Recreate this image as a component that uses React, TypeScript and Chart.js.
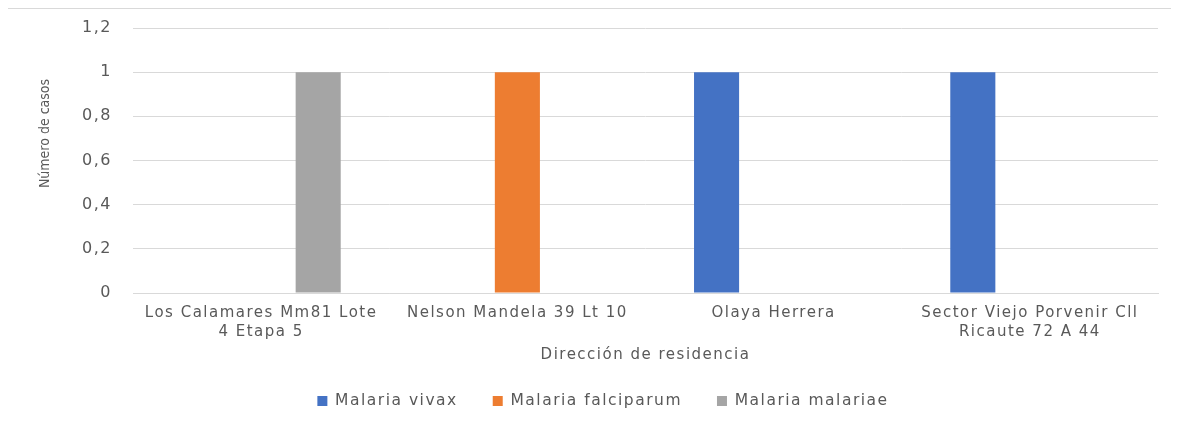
import React, { useEffect, useRef } from "react";
import { Chart, registerables } from "chart.js";

Chart.register(...registerables);

const categories: string[][] = [
  ["Los Calamares Mm81 Lote", "4 Etapa 5"],
  ["Nelson Mandela 39 Lt 10"],
  ["Olaya Herrera"],
  ["Sector Viejo Porvenir Cll", "Ricaute 72 A 44"],
];
const seriesNames = ["Malaria vivax", "Malaria falciparum", "Malaria malariae"];
const vivax = [0, 0, 1, 1];
const falciparum = [0, 1, 0, 0];
const malariae = [1, 0, 0, 0];
const seriesColors = ["#4472C4", "#ED7D31", "#A5A5A5"];
const yTicks = [0, 0.2, 0.4, 0.6, 0.8, 1, 1.2];
const yTitle = "Número de casos";
const xTitle = "Dirección de residencia";

const FONT = "'DejaVu Sans', sans-serif";
const Y_TITLE_FONT = "14px 'Liberation Sans Narrow', 'DejaVu Sans Condensed', sans-serif";
const GREY = "#595959";
const SPACING = "1.5px";

const spacingPlugin = {
  id: "spacing",
  beforeUpdate(chart: any) {
    chart.ctx.letterSpacing = SPACING;
  },
  beforeDraw(chart: any) {
    chart.ctx.letterSpacing = SPACING;
  },
  afterDraw(chart: any) {
    const ctx = chart.ctx;
    const area = chart.chartArea;
    ctx.save();
    ctx.letterSpacing = "0px";
    ctx.font = Y_TITLE_FONT;
    ctx.fillStyle = GREY;
    ctx.textAlign = "center";
    ctx.textBaseline = "middle";
    ctx.translate(45, (area.top + area.bottom) / 2 - 27);
    ctx.rotate(-Math.PI / 2);
    ctx.fillText(yTitle, 0, 0);
    ctx.restore();
  },
};

export default function App() {
  const ref = useRef<HTMLCanvasElement | null>(null);
  useEffect(() => {
    if (!ref.current) return;
    const chart = new Chart(ref.current, {
      type: "bar",
      plugins: [spacingPlugin],
      data: {
        labels: categories,
        datasets: [vivax, falciparum, malariae].map((d, i) => ({
          label: seriesNames[i],
          data: d,
          backgroundColor: seriesColors[i],
          borderWidth: 0,
          categoryPercentage: 0.668,
          barPercentage: 0.79,
        })),
      },
      options: {
        animation: false,
        responsive: false,
        maintainAspectRatio: false,
        layout: { padding: { left: 48, right: 21, top: 28, bottom: 4.25 } },
        plugins: {
          tooltip: { enabled: false },
          legend: {
            position: "bottom",
            labels: {
              boxWidth: 10,
              boxHeight: 10,
              padding: 35,
              color: GREY,
              font: { family: FONT, size: 15.5 },
            },
          },
        },
        scales: {
          x: {
            grid: { display: false, drawTicks: false },
            border: { display: true, color: "#d9d9d9" },
            ticks: {
              color: GREY,
              font: { family: FONT, size: 15, lineHeight: 1.27 },
              padding: 11,
              maxRotation: 0,
              autoSkip: false,
            },
            title: {
              display: true,
              text: xTitle,
              color: GREY,
              font: { family: FONT, size: 15 },
              padding: { top: -6.6, bottom: -6.25 },
            },
          },
          y: {
            min: 0,
            max: 1.2,
            afterFit: (s: any) => {
              s.width = 85;
              s.paddingTop = 0;
              s.paddingBottom = 0;
            },
            afterBuildTicks: (s: any) => {
              s.ticks = yTicks.map((v) => ({ value: v }));
            },
            ticks: {
              color: GREY,
              font: { family: FONT, size: 16 },
              padding: 21,
              callback: (v: any) => String(Math.round(Number(v) * 10) / 10).replace(".", ","),
            },
            grid: { color: "#d9d9d9", drawTicks: false },
            border: { display: false },
            title: { display: false, text: yTitle },
          },
        },
      },
    });
    return () => chart.destroy();
  }, []);
  return (
    <div style={{ position: "relative", width: 1179, height: 423, margin: -8, overflow: "hidden", background: "#fff" }}>
      <div
        style={{
          position: "absolute",
          left: 5,
          top: 7,
          width: 1200,
          height: 430,
          borderLeft: "2px solid #d9d9d9",
          borderTop: "2px solid #d9d9d9",
        }}
      />
      <canvas ref={ref} width={1179} height={423} style={{ position: "absolute", left: 0, top: 0 }} />
    </div>
  );
}
